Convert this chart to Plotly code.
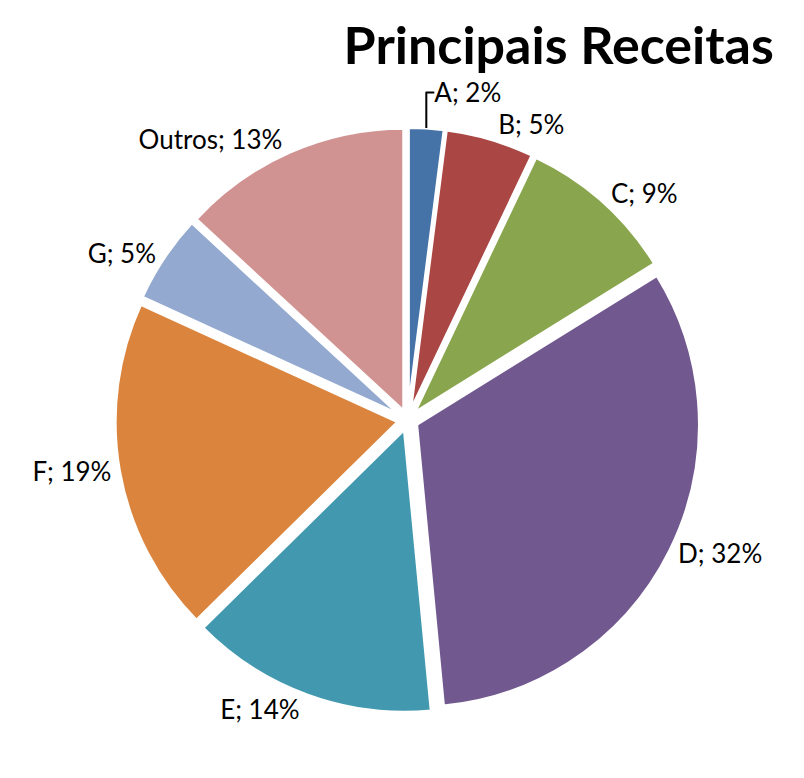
import plotly.graph_objects as go

labels = ["A", "B", "C", "D", "E", "F", "G", "Outros"]
values = [2, 5, 9, 32, 14, 19, 5, 13]
pct_text = ["2%", "5%", "9%", "32%", "14%", "19%", "5%", "13%"]
colors = ["#4572A7", "#AA4643", "#89A54E", "#71588F", "#4198AF", "#DB843D", "#93A9CF", "#D19392"]

text = [f"{l}; {p}" for l, p in zip(labels, pct_text)]

fig = go.Figure(go.Pie(
    labels=labels,
    values=values,
    text=text,
    textinfo="text",
    textposition="outside",
    sort=False,
    direction="clockwise",
    rotation=0,
    pull=0.035,
    marker=dict(colors=colors, line=dict(color="white", width=3)),
    textfont=dict(family="Lato", size=26, color="black"),
    domain=dict(x=[0.0, 0.84], y=[0.0, 0.86]),
    showlegend=False,
))

fig.update_layout(
    width=804, height=778,
    margin=dict(l=0, r=0, t=0, b=0),
    paper_bgcolor="white",
    title=dict(text="<b>Principais Receitas</b>", x=0.685, xanchor="center", y=0.952, yanchor="middle",
               font=dict(family="Lato", size=52, color="black")),
)

fig.write_html("out.html")
